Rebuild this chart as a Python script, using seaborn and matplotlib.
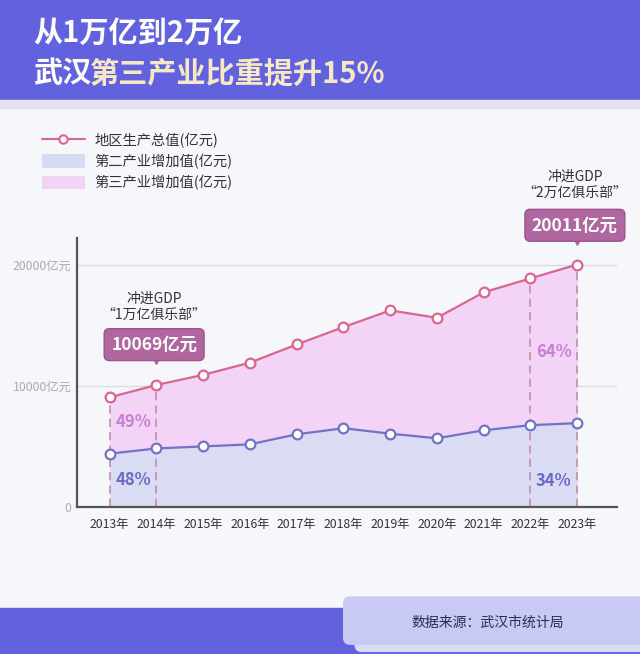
import pandas as pd
import numpy as np
import matplotlib.pyplot as plt
import seaborn as sns
from matplotlib.patches import Rectangle, FancyBboxPatch
from matplotlib.lines import Line2D
from matplotlib.patches import Patch

# --- data (亿元) ---
years = [2013, 2014, 2015, 2016, 2017, 2018, 2019, 2020, 2021, 2022, 2023]
year_labels = [f"{y}年" for y in years]
gdp = [9051, 10069, 10905, 11913, 13410, 14847, 16223, 15616, 17717, 18866, 20011]
secondary = [4400, 4830, 5000, 5170, 6000, 6500, 6050, 5670, 6330, 6750, 6920]
share_labels = {2013: ("49%", "48%"), 2023: ("64%", "34%")}

df = pd.DataFrame({"year": years, "gdp": gdp, "secondary": secondary})

sns.set_theme(style="white")
plt.rcParams['font.family'] = ['Noto Sans CJK SC', 'DejaVu Sans']

BG = '#f6f7fb'
PURPLE = '#6262df'
PINK = '#d9668f'
BLUE = '#7272c8'

fig = plt.figure(figsize=(6.4, 6.54), dpi=100)
fig.patch.set_facecolor(BG)

# header and footer bands
fig.patches.append(Rectangle((0, 0.847), 1, 0.153, transform=fig.transFigure,
                             color=PURPLE, zorder=0))
fig.patches.append(Rectangle((0, 0.835), 1, 0.012, transform=fig.transFigure,
                             color='#e1e4f0', zorder=0))
fig.patches.append(Rectangle((0, 0), 1, 0.0703, transform=fig.transFigure,
                             color=PURPLE, zorder=0))
fig.patches.append(FancyBboxPatch((0.555, 0.004), 0.5, 0.07, transform=fig.transFigure,
                                  boxstyle="round,pad=0,rounding_size=0.01",
                                  color='#d9daf6', zorder=1))
fig.patches.append(FancyBboxPatch((0.537, 0.015), 0.5, 0.072, transform=fig.transFigure,
                                  boxstyle="round,pad=0,rounding_size=0.01",
                                  color='#c8caf3', zorder=2))
fig.text(0.762, 0.048, "数据来源：武汉市统计局", ha='center', va='center',
         fontsize=10, color='#2b2b55', zorder=3)

# title
fig.text(0.052, 0.95, "从1万亿到2万亿", fontsize=21, fontweight='heavy',
         color='white', va='center', ha='left')
fig.text(0.052, 0.888, "武汉", fontsize=21, fontweight='heavy',
         color='white', va='center', ha='left')
fig.text(0.052 + 0.089, 0.888, "第三产业比重提升15%", fontsize=21, fontweight='heavy',
         color='#f6e8c4', va='center', ha='left')

ax = fig.add_axes([0.1203, 0.2248, 0.8437, 0.4113])
ax.set_facecolor(BG)

# areas
ax.fill_between(df['year'], df['secondary'], df['gdp'], color='#f3d3f6', lw=0, zorder=1)
ax.fill_between(df['year'], 0, df['secondary'], color='#dadcf4', lw=0, zorder=1)

# grid lines
for v in [10000, 20000]:
    ax.axhline(v, color='#dcdce4', lw=1, zorder=0.5)

# dashed guides
for y in [2013, 2014, 2022, 2023]:
    g = df.loc[df['year'] == y, 'gdp'].iloc[0]
    ax.plot([y, y], [0, g], color='#c48db3', lw=1.2, ls=(0, (5, 3)), zorder=2)

sns.lineplot(data=df, x='year', y='gdp', ax=ax, color=PINK, lw=1.6,
             marker='o', markersize=7, markerfacecolor='white',
             markeredgecolor=PINK, markeredgewidth=1.6, zorder=4)
sns.lineplot(data=df, x='year', y='secondary', ax=ax, color=BLUE, lw=1.6,
             marker='o', markersize=7, markerfacecolor='white',
             markeredgecolor=BLUE, markeredgewidth=1.6, zorder=4)

# share labels
ax.text(2013.5, 7000, share_labels[2013][0], ha='center', va='center',
        fontsize=12, fontweight='bold', color='#c77ed3', zorder=5)
ax.text(2013.5, 2200, share_labels[2013][1], ha='center', va='center',
        fontsize=12, fontweight='bold', color='#6b6bc6', zorder=5)
ax.text(2022.5, 12800, share_labels[2023][0], ha='center', va='center',
        fontsize=12, fontweight='bold', color='#c77ed3', zorder=5)
ax.text(2022.5, 2150, share_labels[2023][1], ha='center', va='center',
        fontsize=12, fontweight='bold', color='#6b6bc6', zorder=5)

# callouts
BOX = '#b0679f'
for x, yb, ytip, ytxt, club, val in [
        (2014, 13400, 11700, 16530, "“1万亿俱乐部”", "10069亿元"),
        (2023, 23250, 21500, 26600, "“2万亿俱乐部”", "20011亿元")]:
    ax.text(x - 0.05, ytxt, "冲进GDP\n" + club, ha='center', va='center',
            fontsize=10, color='#333333', linespacing=1.2, zorder=6, clip_on=False)
    ax.text(x - 0.05, yb, val, ha='center', va='center', fontsize=12.5,
            fontweight='bold', color='white', zorder=6, clip_on=False,
            bbox=dict(boxstyle='round,pad=0.4,rounding_size=0.3', fc=BOX,
                      ec='#9a5489', lw=1))
    ax.plot([x], [ytip + 500], marker='v', ms=7, color=BOX, zorder=5, clip_on=False)

ax.set_xlim(2012.3, 2023.85)
ax.set_ylim(0, 22200)
ax.set_xticks(years)
ax.set_xticklabels(year_labels, fontsize=8.8, color='#333333')
ax.set_yticks([0, 10000, 20000])
ax.set_yticklabels(['0', '10000亿元', '20000亿元'], fontsize=8.8, color='#aaaaaa')
ax.tick_params(axis='x', direction='in', length=4, width=1.2, color='#555555', pad=8)
ax.tick_params(axis='y', length=0, pad=4)
ax.set_xlabel('')
ax.set_ylabel('')
for s in ['top', 'right']:
    ax.spines[s].set_visible(False)
for s in ['left', 'bottom']:
    ax.spines[s].set_color('#555555')
    ax.spines[s].set_linewidth(1.6)

# legend
handles = [
    Line2D([0], [0], color=PINK, lw=1.5, marker='o', markersize=6,
           markerfacecolor='white', markeredgecolor=PINK, markeredgewidth=1.5),
    Patch(facecolor='#d8dcf3', edgecolor='none'),
    Patch(facecolor='#f1d3f6', edgecolor='none'),
]
labels = ['地区生产总值(亿元)', '第二产业增加值(亿元)', '第三产业增加值(亿元)']
fig.legend(handles, labels, loc='upper left', bbox_to_anchor=(0.045, 0.817),
           frameon=False, fontsize=10.3, handlelength=3.0, handleheight=1.1,
           labelspacing=0.42, handletextpad=0.7, labelcolor='#333333')

fig.savefig('out.png', dpi=100, facecolor=BG)
